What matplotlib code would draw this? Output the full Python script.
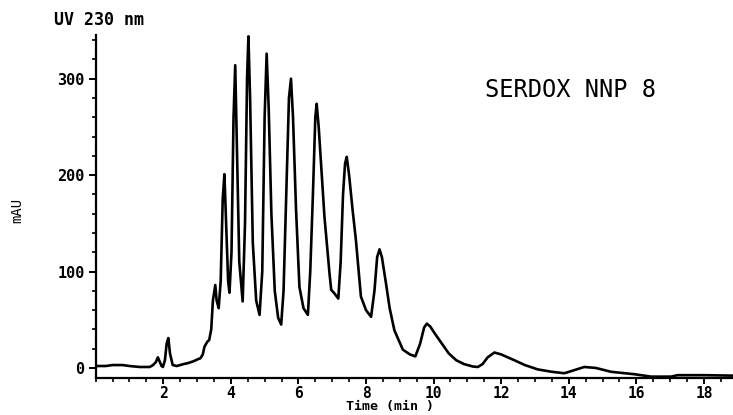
import matplotlib
matplotlib.use('Agg')
import matplotlib.pyplot as plt
from matplotlib.ticker import MultipleLocator

# chromatogram trace: time (min), absorbance (mAU)
time_min = [0.0, 0.3, 0.5, 0.8, 1.0, 1.3, 1.6, 1.7, 1.78, 1.84, 1.9, 1.95, 1.99,
            2.05, 2.1, 2.15, 2.2, 2.28, 2.4, 2.6, 2.73, 2.9, 3.02, 3.1, 3.17,
            3.22, 3.3, 3.36, 3.42, 3.47, 3.54, 3.58, 3.64, 3.7, 3.76, 3.81, 3.86,
            3.92, 3.96, 4.02, 4.08, 4.13, 4.18, 4.25, 4.35, 4.42, 4.48, 4.52,
            4.57, 4.65, 4.75, 4.85, 4.93, 5.0, 5.06, 5.12, 5.2, 5.3, 5.4, 5.49,
            5.56, 5.64, 5.72, 5.78, 5.84, 5.93, 6.03, 6.15, 6.28, 6.35, 6.43,
            6.5, 6.54, 6.6, 6.77, 6.92, 6.97, 7.05, 7.18, 7.25, 7.32, 7.38, 7.43,
            7.5, 7.6, 7.7, 7.85, 8.0, 8.15, 8.25, 8.33, 8.4, 8.47, 8.59, 8.7,
            8.84, 9.09, 9.3, 9.46, 9.6, 9.72, 9.8, 9.9, 10.05, 10.27, 10.45,
            10.67, 10.9, 11.16, 11.31, 11.45, 11.6, 11.8, 12.0, 12.39, 12.7,
            13.08, 13.5, 13.87, 14.1, 14.46, 14.8, 15.25, 15.94, 16.43, 17.03,
            17.22, 18.0, 18.9]
mau = [2, 2, 3, 3, 2, 1, 1, 3, 6, 11, 6, 2, 1,
       8, 25, 31, 15, 3, 2, 4, 5, 7, 9, 10, 14,
       22, 27, 29, 40, 70, 86, 70, 62, 90, 175, 201, 150,
       90, 78, 120, 260, 314, 230, 110, 69, 150, 300, 344,
       280, 130, 70, 55, 100, 260, 326, 270, 160, 80, 52, 45,
       80, 181, 280, 300, 260, 164, 84, 62, 55, 100, 181,
       260, 274, 250, 157, 98, 81, 78, 72, 110, 180, 212, 219,
       200, 165, 133, 74, 60, 53, 80, 115, 123, 115, 88, 62,
       39, 19, 14, 12, 25, 42, 46, 43, 35, 24, 15,
       8, 4, 1.5, 1, 4, 11, 16, 14, 8, 3,
       -1.5, -4, -5.5, -3, 1, 0, -4, -6.5, -9, -9,
       -7.5, -7.5, -8]

x_major = [2, 4, 6, 8, 10, 12, 14, 16, 18]
y_major = [0, 100, 200, 300]

mono = 'DejaVu Sans Mono'

fig = plt.figure(figsize=(7.33, 4.15), dpi=100)
ax = fig.add_axes([0.1305, 0.089, 0.8695, 0.827])

ax.plot(time_min, mau, color='black', lw=1.9, solid_joinstyle='round')

ax.set_xlim(0, 18.86)
ax.set_ylim(-10.5, 345.5)

for s in ['top', 'right']:
    ax.spines[s].set_visible(False)
for s in ['left', 'bottom']:
    ax.spines[s].set_linewidth(1.6)

ax.set_xticks(x_major)
ax.set_xticklabels([str(v) for v in x_major], family=mono, fontsize=10.5, fontweight='bold')
ax.xaxis.set_minor_locator(MultipleLocator(0.5))
ax.set_yticks(y_major)
ax.set_yticklabels([str(v) for v in y_major], family=mono, fontsize=11, fontweight='bold')
ax.yaxis.set_minor_locator(MultipleLocator(20))
ax.tick_params(axis='both', which='major', direction='out', length=5, width=1.4, pad=3)
ax.tick_params(axis='x', which='major', length=4, pad=1.5)
ax.tick_params(axis='both', which='minor', direction='out', length=3, width=1.2)

fig.text(0.135, 0.952, 'UV 230 nm', family=mono, fontsize=12, fontweight='bold',
         ha='center', va='center')
fig.text(0.023, 0.494, 'mAU', family=mono, fontsize=10, rotation=90,
         ha='center', va='center')
fig.text(0.778, 0.784, 'SERDOX NNP 8', family=mono, fontsize=17,
         ha='center', va='center')
fig.text(0.532, 0.02, 'Time (min )', family=mono, fontsize=9.5, fontweight='bold',
         ha='center', va='center')

fig.savefig('out.png', dpi=100)
